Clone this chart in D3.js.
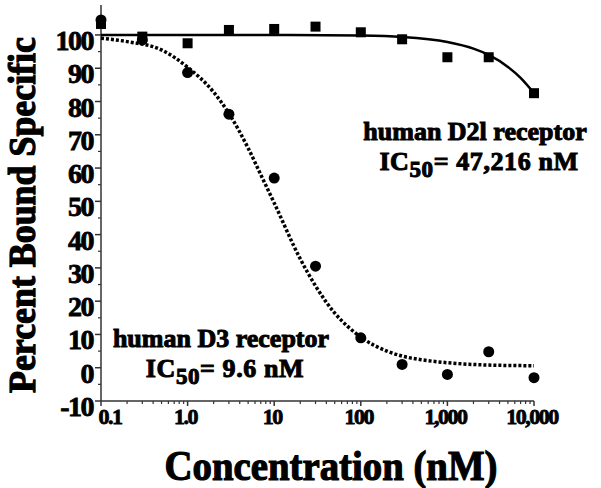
<!DOCTYPE html>
<html>
<head>
<meta charset="utf-8">
<script src="https://cdn.jsdelivr.net/npm/d3@7"></script>
<style>
  body { margin: 0; background: #fff; }
  text { font-family: "Liberation Serif", "Times New Roman", serif; font-weight: bold; fill: #000; stroke: #000; stroke-width: 0.8px; }
</style>
</head>
<body>
<div id="chart"></div>
<script>
// concentrations (nM) used in both assays
var conc = [0.1, 0.3, 1, 3, 10, 30, 100, 300, 1000, 3000, 10000];
// human D2l receptor, percent bound specific (squares)
var d2Values = [103.3, 99.5, 97.5, 101.5, 101.8, 102.5, 100.8, 98.7, 93.3, 93.3, 82.5];
// human D3 receptor, percent bound specific (circles)
var d3Values = [104.5, 98.5, 88.7, 76.2, 57, 30.5, 9, 1, -2, 4.8, -3];

// fitted curves
var d2CurveX = [0.1, 1, 10, 100, 300, 1000, 2000, 3000, 5000, 7000, 10000];
var d2CurveY = [100, 100, 100, 99.8, 99.4, 97.9, 95.9, 94, 90.4, 87.1, 82.5];
var d3CurveX = [0.1, 0.2, 0.5, 1, 2, 3, 5, 7, 10, 20, 30, 50, 70, 100, 200, 300, 500, 1000, 3000, 10000];
var d3CurveY = [99, 98, 95.5, 90.3, 82.8, 76.4, 66, 58, 49.5, 32.7, 24.6, 16.4, 12.5, 9.2, 5, 3.5, 2.4, 1.5, 0.8, 0.6];

var xTicks = [0.1, 1, 10, 100, 1000, 10000];
var xTickLabels = ["0.1", "1.0", "10", "100", "1,000", "10,000"];
var yTicks = [-10, 0, 10, 20, 30, 40, 50, 60, 70, 80, 90, 100];

var width = 601, height = 488;

var svg = d3.select("#chart").append("svg")
    .attr("width", width)
    .attr("height", height);

var x = d3.scaleLog().domain([0.1, 10000]).range([101, 534]);
var y = d3.scaleLinear().domain([-10, 109]).range([401, 5]);

var axisColor = "#333";

// squeeze a text horizontally so it is `w` pixels wide
function squeeze(sel, tx, ty, w, rot) {
    var nat = sel.node().getBBox().width;
    var s = w / nat;
    sel.attr("transform", "translate(" + tx + "," + ty + ")" + (rot ? " rotate(" + rot + ")" : "") + " scale(" + s + ",1)");
}

// y axis
svg.append("line")
    .attr("x1", x(0.1)).attr("x2", x(0.1))
    .attr("y1", y(109)).attr("y2", y(-10))
    .attr("stroke", axisColor).attr("stroke-width", 1.5);

// minor y ticks at the 5s
for (var v = -5; v < 100; v += 10) {
    svg.append("line")
        .attr("x1", x(0.1) - 3).attr("x2", x(0.1))
        .attr("y1", y(v)).attr("y2", y(v))
        .attr("stroke", axisColor).attr("stroke-width", 1.2);
}
svg.selectAll(".ytick")
    .data(yTicks)
    .enter().append("line")
    .attr("x1", x(0.1) - 6).attr("x2", x(0.1))
    .attr("y1", function (d) { return y(d); })
    .attr("y2", function (d) { return y(d); })
    .attr("stroke", axisColor).attr("stroke-width", 1.5);

svg.selectAll(".ylab")
    .data(yTicks)
    .enter().append("text")
    .attr("x", 93)
    .attr("y", function (d) { return y(d) + 15; })
    .attr("text-anchor", "end")
    .style("font-size", "28px")
    .style("letter-spacing", "-1.5px")
    .text(function (d) { return d; });

// x axis
svg.append("line")
    .attr("x1", x(0.1)).attr("x2", x(10000))
    .attr("y1", y(-10)).attr("y2", y(-10))
    .attr("stroke", axisColor).attr("stroke-width", 1.5);

var minor = [];
for (var dec = 0.1; dec < 10000; dec *= 10) {
    for (var k = 2; k <= 9; k++) minor.push(dec * k);
}
svg.selectAll(".xminor")
    .data(minor)
    .enter().append("line")
    .attr("x1", function (d) { return x(d); })
    .attr("x2", function (d) { return x(d); })
    .attr("y1", y(-10)).attr("y2", y(-10) + 3)
    .attr("stroke", axisColor).attr("stroke-width", 1.2);
svg.selectAll(".xtick")
    .data(xTicks)
    .enter().append("line")
    .attr("x1", function (d) { return x(d); })
    .attr("x2", function (d) { return x(d); })
    .attr("y1", y(-10)).attr("y2", y(-10) + 5)
    .attr("stroke", axisColor).attr("stroke-width", 1.5);

svg.selectAll(".xlab")
    .data(xTicks)
    .enter().append("text")
    .attr("x", function (d, i) { return x(d) + (i === 0 ? 9 : -2); })
    .attr("y", 424)
    .attr("text-anchor", "middle")
    .style("font-size", "22px")
    .style("letter-spacing", "-1.5px")
    .text(function (d, i) { return xTickLabels[i]; });

// axis titles
var xTitle = svg.append("text")
    .attr("text-anchor", "middle")
    .style("font-size", "43px")
    .style("stroke-width", "1.2px")
    .text("Concentration (nM)");
squeeze(xTitle, 331, 480, 333);

var yTitle = svg.append("text")
    .attr("text-anchor", "middle")
    .style("font-size", "38px")
    .style("stroke-width", "1.2px")
    .text("Percent Bound Specific");
squeeze(yTitle, 35, 215, 356, -90);

// curves
var line = d3.line()
    .x(function (d) { return x(d[0]); })
    .y(function (d) { return y(d[1]); })
    .curve(d3.curveMonotoneX);

svg.append("path")
    .attr("d", line(d2CurveX.map(function (c, i) { return [c, d2CurveY[i]]; })))
    .attr("fill", "none")
    .attr("stroke", "#000")
    .attr("stroke-width", 2.5);

svg.append("path")
    .attr("d", line(d3CurveX.map(function (c, i) { return [c, d3CurveY[i]]; })))
    .attr("fill", "none")
    .attr("stroke", "#000")
    .attr("stroke-width", 3.5)
    .attr("stroke-dasharray", "3,2");

// points
svg.selectAll(".circ")
    .data(conc)
    .enter().append("circle")
    .attr("cx", function (d) { return x(d); })
    .attr("cy", function (d, i) { return y(d3Values[i]); })
    .attr("r", 5.5)
    .attr("fill", "#000");

svg.selectAll(".sq")
    .data(conc)
    .enter().append("rect")
    .attr("x", function (d) { return x(d) - 5; })
    .attr("y", function (d, i) { return y(d2Values[i]) - 5; })
    .attr("width", 10).attr("height", 10)
    .attr("fill", "#000");

// annotations: one text element per label, two lines as tspans
function label(cx, by, gap, line1, value) {
    var t = svg.append("text")
        .attr("text-anchor", "middle")
        .style("font-size", "26px")
        .style("stroke-width", "1px");
    t.append("tspan").attr("x", cx).attr("y", by)
        .style("letter-spacing", "0px")
        .text(line1);
    t.append("tspan").attr("x", cx + 4).attr("y", by + gap)
        .style("letter-spacing", "0.6px")
        .text("IC");
    t.append("tspan").attr("dy", 7).style("font-size", "23px")
        .style("letter-spacing", "0.6px")
        .text("50");
    t.append("tspan").attr("dy", -7)
        .style("letter-spacing", "0.6px")
        .text("= " + value);
}
label(475, 140, 29.5, "human D2l receptor", "47,216 nM");
label(221, 347, 29.5, "human D3 receptor", "9.6 nM");
</script>
</body>
</html>
